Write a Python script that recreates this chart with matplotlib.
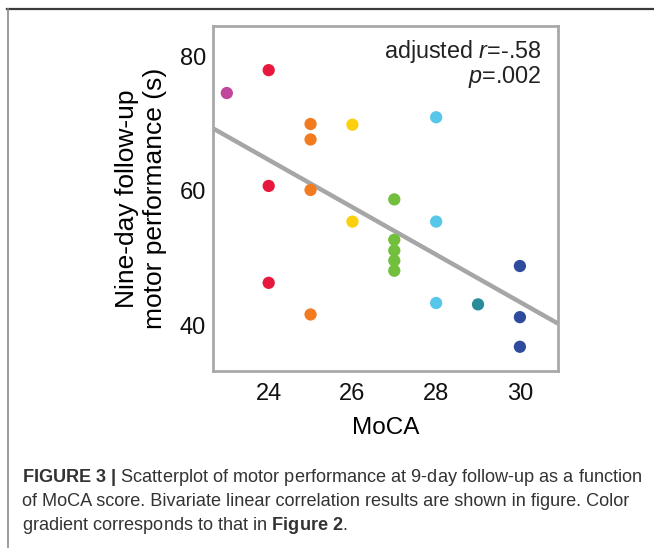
import matplotlib
matplotlib.use('Agg')
import matplotlib.pyplot as plt
from matplotlib.lines import Line2D

plt.rcParams['font.family'] = ['Liberation Sans', 'DejaVu Sans']
plt.rcParams['mathtext.fontset'] = 'custom'
plt.rcParams['mathtext.rm'] = 'Liberation Sans'
plt.rcParams['mathtext.it'] = 'Liberation Sans:italic'
plt.rcParams['mathtext.bf'] = 'Liberation Sans:bold'

# MoCA score vs nine-day follow-up motor performance (s)
moca = [23, 24, 24, 24, 25, 25, 25, 25, 26, 26,
        27, 27, 27, 27, 27, 28, 28, 28, 29, 30, 30, 30]
perf = [74.5, 77.9, 60.7, 46.3, 69.9, 67.6, 60.1, 41.6, 69.8, 55.4,
        58.7, 52.7, 51.1, 49.6, 48.1, 70.9, 55.4, 43.3, 43.1, 48.8, 41.2, 36.8]
# colour per MoCA score (gradient as in Figure 2)
score_colors = {23: '#c2479c', 24: '#e8173e', 25: '#f27b1f', 26: '#fcd00c',
                27: '#71bf3c', 28: '#56c7e9', 29: '#2a8c9a', 30: '#2f4b9d'}
# regression line as drawn
fit_slope = -3.52
fit_intercept = 149.05

xticks = [24, 26, 28, 30]
yticks = [40, 60, 80]

fig = plt.figure(figsize=(6.54, 5.48), dpi=100)
ax = fig.add_axes([213 / 654, 1 - 371 / 548, 345 / 654, 345 / 548])

xlim = (22.67, 30.91)
ax.set_xlim(*xlim)
ax.set_ylim(33.2, 84.46)

ax.plot(xlim, [fit_intercept + fit_slope * x for x in xlim],
        color='#a6a6a6', lw=3.2, solid_capstyle='butt', zorder=1)
ax.scatter(moca, perf, c=[score_colors[m] for m in moca], s=78,
           linewidths=0, zorder=2)

ax.set_xticks(xticks)
ax.set_yticks(yticks)
ax.tick_params(length=0, labelsize=17, colors='#111111')
ax.tick_params(axis='x', pad=8.5)
ax.tick_params(axis='y', pad=5)
for sp in ax.spines.values():
    sp.set_color('#a9a9a9')
    sp.set_linewidth(2)

ax.set_xlabel('MoCA', fontsize=17.5, labelpad=9)
ax.set_ylabel('Nine-day follow-up\nmotor performance (s)', fontsize=19,
              linespacing=1.22, labelpad=9)

ax.text(0.953, 0.925, 'adjusted $r$=-.58', transform=ax.transAxes,
        ha='right', va='center', fontsize=16.8, color='#222222')
ax.text(0.953, 0.852, '$p$=.002', transform=ax.transAxes,
        ha='right', va='center', fontsize=16.8, color='#222222')

# caption
cap = [r'$\mathbf{FIGURE\ 3\ |}$ Scatterplot of motor performance at 9-day follow-up as a function',
       'of MoCA score. Bivariate linear correlation results are shown in figure. Color',
       r'gradient corresponds to that in $\mathbf{Figure\ 2}$.']
for i, line in enumerate(cap):
    fig.text(22 / 654, 1 - (477 + 24.5 * i) / 548, line, ha='left', va='center',
             fontsize=13.1, color='#333333')

# frame lines of the figure panel
fig.add_artist(Line2D([7 / 654, 1], [1 - 8.5 / 548] * 2, color='#3a3a3a', lw=1.6))
fig.add_artist(Line2D([7.5 / 654] * 2, [0, 1 - 8.5 / 548], color='#8a8a8a', lw=1.2))

fig.savefig('out.png', dpi=100)
